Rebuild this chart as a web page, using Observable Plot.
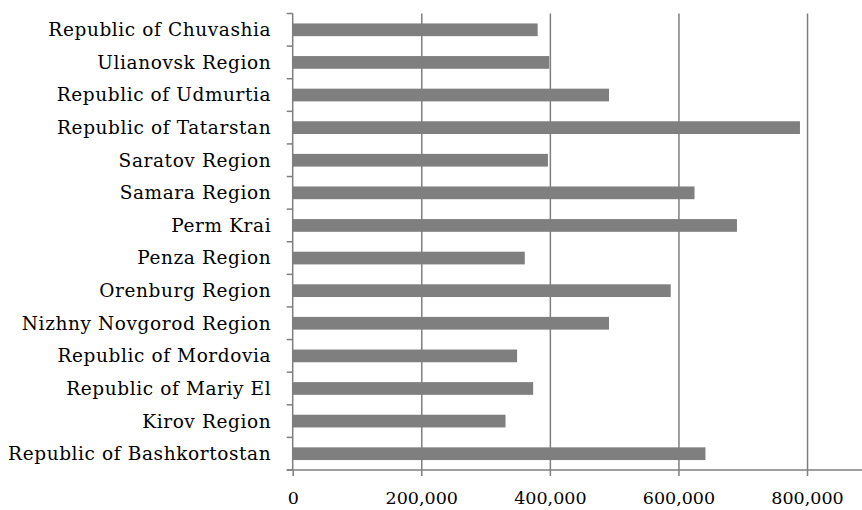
<!DOCTYPE html>
<html>
<head>
<meta charset="utf-8">
<script src="https://cdn.jsdelivr.net/npm/d3@7"></script>
<script src="https://cdn.jsdelivr.net/npm/@observablehq/plot@0.6"></script>
<style>
  html, body { margin: 0; padding: 0; background: #fff; }
  #chart svg { display: block; }
  #chart svg g[aria-label="y-axis tick label"] text { letter-spacing: 0.6px; }
</style>
</head>
<body>
<div id="chart"></div>
<script>
const regions = [
  "Republic of Chuvashia",
  "Ulianovsk Region",
  "Republic of Udmurtia",
  "Republic of Tatarstan",
  "Saratov Region",
  "Samara Region",
  "Perm Krai",
  "Penza Region",
  "Orenburg Region",
  "Nizhny Novgorod Region",
  "Republic of Mordovia",
  "Republic of Mariy El",
  "Kirov Region",
  "Republic of Bashkortostan"
];
const values = [381000, 399000, 492000, 789000, 397000, 625000, 691000, 361000, 588000, 492000, 349000, 374000, 331000, 642000];
const xTicks = [0, 200000, 400000, 600000, 800000];
const gridTicks = [200000, 400000, 600000, 800000];

const data = regions.map((r, i) => ({region: r, value: values[i]}));
const gray = "#7f7f7f";
const font = "'DejaVu Serif', serif";

// custom mark: axis lines and category-boundary ticks derived from the scales
function axesMark(index, scales, values, dimensions) {
  const x = scales.x, y = scales.y;
  const bw = typeof y.bandwidth === "function" ? y.bandwidth() : 0;
  const centers = regions.map(r => y(r) + bw / 2);
  const step = centers[1] - centers[0];
  const bounds = [centers[0] - step / 2, ...centers.map(c => c + step / 2)];
  const x0 = x(0);
  const g = d3.create("svg:g").attr("stroke", gray).attr("fill", "none");
  const top = bounds[0], bottom = bounds[bounds.length - 1];
  g.append("line").attr("x1", x0).attr("x2", x0).attr("y1", top).attr("y2", bottom)
    .attr("stroke-width", 1.5);
  g.append("line").attr("x1", x0 - 6).attr("x2", dimensions.width).attr("y1", bottom).attr("y2", bottom)
    .attr("stroke-width", 1.5);
  for (const b of bounds) {
    g.append("line").attr("x1", x0 - 6).attr("x2", x0).attr("y1", b).attr("y2", b)
      .attr("stroke-width", 1.5);
  }
  return g.node();
}

const maxX = 885500;

const chart = Plot.plot({
  width: 862,
  height: 510,
  marginLeft: 292.7,
  marginRight: 0,
  marginTop: 13.5,
  marginBottom: 40,
  style: {fontFamily: font, fontSize: "17.5px", color: "#000", background: "#fff"},
  x: {domain: [0, maxX], range: [292.7, 862]},
  y: {domain: regions, paddingInner: 0.61, paddingOuter: 0.305, round: false},
  marks: [
    Plot.gridX(gridTicks, {stroke: gray, strokeOpacity: 1, strokeWidth: 1.5}),
    Plot.barX(data, {x: "value", y: "region", fill: gray}),
    axesMark,
    Plot.axisX(xTicks, {
      tickFormat: d3.format(","),
      tickSize: 6,
      tickPadding: 15,
      stroke: gray,
      strokeWidth: 1.5,
      fill: "#000",
      label: null,
      fontSize: 17.5
    }),
    Plot.axisY({
      tickSize: 0,
      tickPadding: 22,
      fill: "#000",
      label: null,
      fontSize: 18.5
    })
  ]
});
document.getElementById("chart").appendChild(chart);
</script>
</body>
</html>
